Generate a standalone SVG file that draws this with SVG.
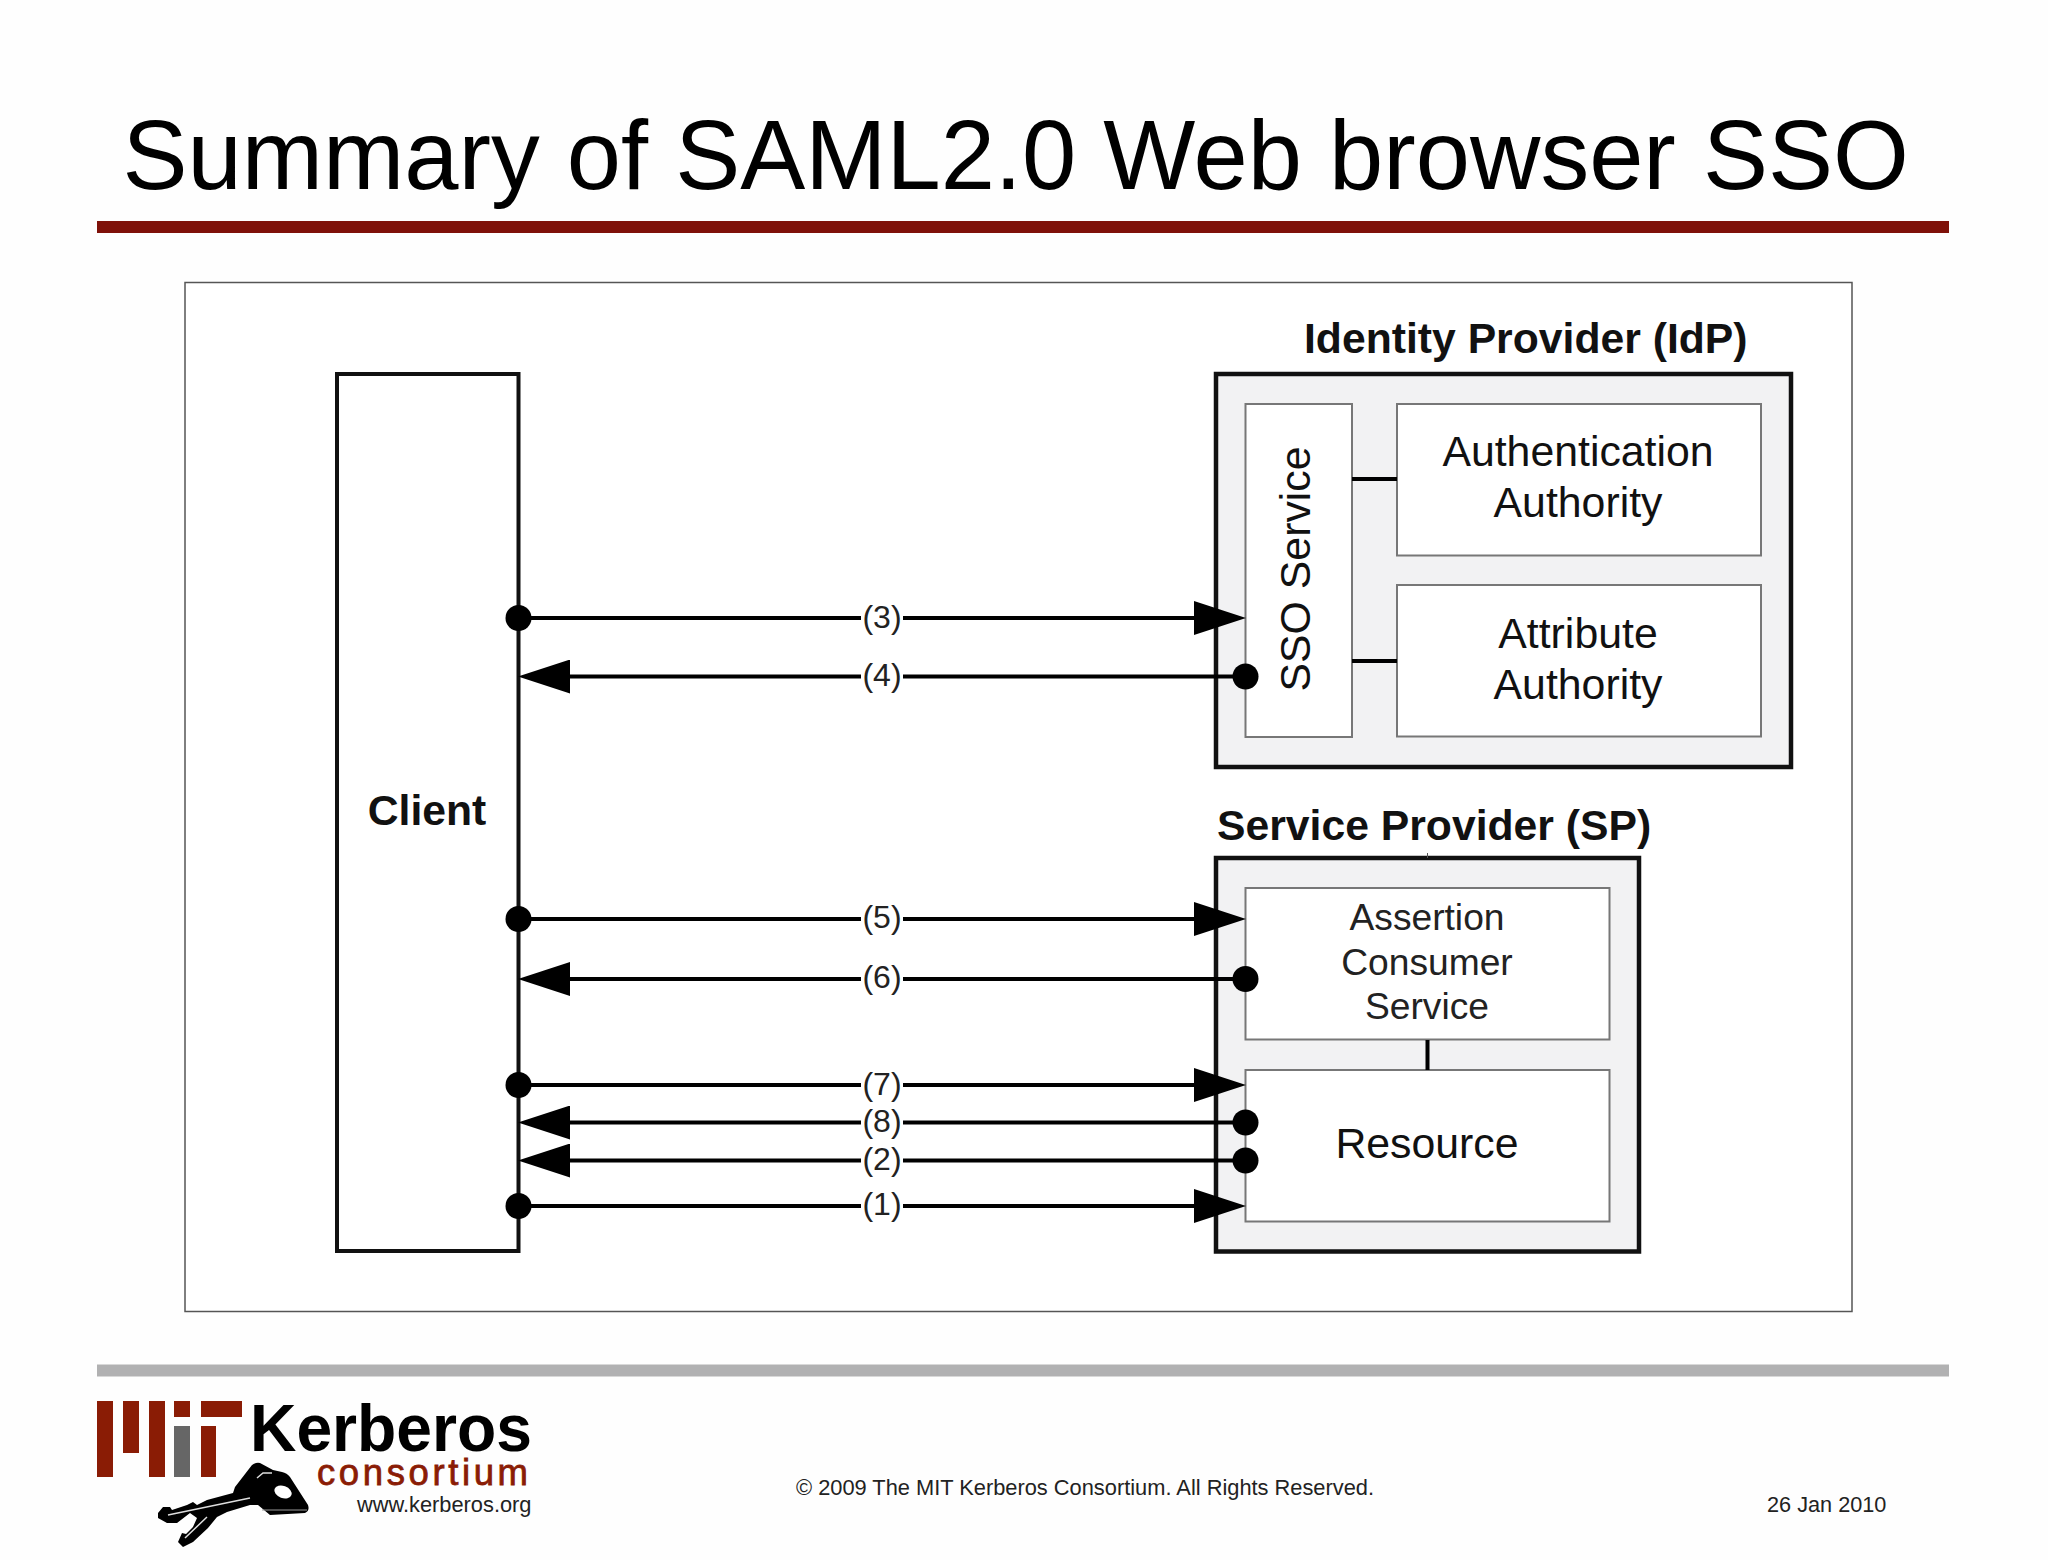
<svg xmlns="http://www.w3.org/2000/svg" width="2048" height="1560" viewBox="0 0 2048 1560">
<style>
text{font-family:"Liberation Sans",Arial,sans-serif;fill:#111}
.b{font-weight:bold;font-size:42.700px}
.m{font-size:42.800px;text-anchor:middle}
.s{font-size:37.200px;text-anchor:middle;fill:#222}
.l{font-size:32px;text-anchor:middle;fill:#222}
.f{font-size:21.700px;fill:#222}
.outer{fill:#f2f2f3;stroke:#111;stroke-width:4.500}
.inner{fill:#fff;stroke:#777;stroke-width:2}
.conn{stroke:#000;stroke-width:4;fill:none}
.msg{stroke:#000;stroke-width:4;fill:none;marker-start:url(#dot);marker-end:url(#tri)}
.lbg{fill:#fff}
.red{fill:#8a1c05}
</style>
<defs>
<marker id="tri" markerUnits="userSpaceOnUse" markerWidth="52" markerHeight="34" viewBox="0 0 52 34" refX="10" refY="17" orient="auto"><path d="M0 0L52 17L0 34Z" fill="#000"/></marker>
<marker id="dot" markerUnits="userSpaceOnUse" markerWidth="27" markerHeight="27" viewBox="0 0 27 27" refX="13.500" refY="13.500" orient="auto"><circle cx="13.500" cy="13.500" r="13" fill="#000"/></marker>
</defs>
<rect width="2048" height="1560" fill="#fefefe"/>
<g id="title">
<text x="122.500" y="189" font-size="97.500" style="fill:#000">Summary of SAML2.0 Web browser SSO</text>
<rect x="97" y="221" width="1852" height="12" fill="#7f1109"/>
</g>
<rect id="frame" x="185" y="282.500" width="1667" height="1029" fill="#fff" stroke="#555" stroke-width="1.500"/>
<g id="client">
<rect x="337" y="374" width="181.500" height="877" fill="#fff" stroke="#111" stroke-width="4"/>
<text x="427" y="825" class="b" text-anchor="middle">Client</text>
</g>
<g id="idp">
<rect class="outer" x="1216" y="374" width="575" height="393"/>
<text x="1304" y="353" class="b">Identity Provider (IdP)</text>
</g>
<g id="sso-service">
<rect class="inner" x="1245.500" y="404" width="106.500" height="333"/>
<text class="m" transform="translate(1310 569) rotate(-90)">SSO Service</text>
</g>
<g id="authentication-authority">
<rect class="inner" x="1397" y="404" width="364" height="151.500"/>
<text class="m" x="1578" y="466">Authentication</text>
<text class="m" x="1578" y="517">Authority</text>
</g>
<g id="attribute-authority">
<rect class="inner" x="1397" y="585" width="364" height="151.500"/>
<text class="m" x="1578" y="647.500">Attribute</text>
<text class="m" x="1578" y="698.500">Authority</text>
</g>
<g id="sp">
<rect class="outer" x="1216" y="858" width="423" height="393.500"/>
<text x="1217" y="840" class="b">Service Provider (SP)</text>
</g>
<g id="acs">
<rect class="inner" x="1245.500" y="888" width="364" height="151.500"/>
<text class="s" x="1427" y="930">Assertion</text>
<text class="s" x="1427" y="974.500">Consumer</text>
<text class="s" x="1427" y="1019">Service</text>
</g>
<g id="resource">
<rect class="inner" x="1245.500" y="1070" width="364" height="151.500"/>
<text class="m" x="1427" y="1158">Resource</text>
</g>
<g id="connectors">
<path class="conn" d="M1352 479H1397M1352 661H1397M1427.500 1040V1070"/>
<path stroke="#555" stroke-width="1" d="M1427.500 853V858"/>
<path class="msg" d="M518.500 618H1204"/>
<path class="msg" d="M1245.500 676.500H560"/>
<path class="msg" d="M518.500 919H1204"/>
<path class="msg" d="M1245.500 979H560"/>
<path class="msg" d="M518.500 1085H1204"/>
<path class="msg" d="M1245.500 1122.500H560"/>
<path class="msg" d="M1245.500 1160.500H560"/>
<path class="msg" d="M518.500 1206H1204"/>
<g>
<rect class="lbg" x="861" y="604" width="42" height="28"/><text class="l" x="882" y="627.500">(3)</text>
<rect class="lbg" x="861" y="663" width="42" height="28"/><text class="l" x="882" y="685.500">(4)</text>
<rect class="lbg" x="861" y="905" width="42" height="28"/><text class="l" x="882" y="928">(5)</text>
<rect class="lbg" x="861" y="965" width="42" height="28"/><text class="l" x="882" y="988">(6)</text>
<rect class="lbg" x="861" y="1072" width="42" height="27"/><text class="l" x="882" y="1094.500">(7)</text>
<rect class="lbg" x="861" y="1109" width="42" height="27"/><text class="l" x="882" y="1132">(8)</text>
<rect class="lbg" x="861" y="1147" width="42" height="27"/><text class="l" x="882" y="1170">(2)</text>
<rect class="lbg" x="861" y="1192" width="42" height="27"/><text class="l" x="882" y="1215">(1)</text>
</g>
</g>
<g id="footer">
<rect x="97" y="1364.500" width="1852" height="12" fill="#b1b1b2"/>
<text x="796" y="1495" font-size="22.500" textLength="578" lengthAdjust="spacingAndGlyphs" style="fill:#222">© 2009 The MIT Kerberos Consortium. All Rights Reserved.</text>
<text class="f" x="1767" y="1512">26 Jan 2010</text>
</g>
<g id="logo">
<path class="red" d="M97 1401h16v76h-16zM123 1401h16v52h-16zM149 1401h16v76h-16zM174 1401h16v16h-16zM201 1401h41v16h-41zM201 1426h15v51h-15z"/>
<rect x="174" y="1426" width="16" height="51" fill="#666"/>
<text x="250" y="1451" font-size="66" font-weight="bold" textLength="282" lengthAdjust="spacingAndGlyphs" style="fill:#000">Kerberos</text>
<text x="317" y="1485" font-size="36.500" textLength="211" lengthAdjust="spacing" style="fill:#8a1c05;stroke:#8a1c05;stroke-width:.8">consortium</text>
<text x="357" y="1512" font-size="21.800" style="fill:#222">www.kerberos.org</text>
<path fill="#000" d="M235 1487L252 1465Q256 1462 260 1463L273 1470L282 1472Q287 1473 290 1477L308 1505Q310 1511 305 1513L270 1515L258 1505L250 1505L227 1512L217 1517L208 1528L193 1542L183 1547L178 1542L182 1533L186 1534L193 1527L197 1518L190 1513L177 1523L167 1523L158 1518L158 1513L163 1507L170 1507L172 1510L187 1505L193 1502L197 1505L207 1500L233 1493Z"/>
<ellipse cx="283" cy="1492" rx="9" ry="6" fill="#fff" transform="rotate(20 283 1492)"/>
<path stroke="#ddd" stroke-width="1.500" fill="none" d="M168 1515L250 1498M185 1538L207 1517M257 1478L263 1473L272 1473"/>
<path stroke="#999" stroke-width="1" fill="none" d="M262 1510L307 1510"/>
</g>
</svg>
